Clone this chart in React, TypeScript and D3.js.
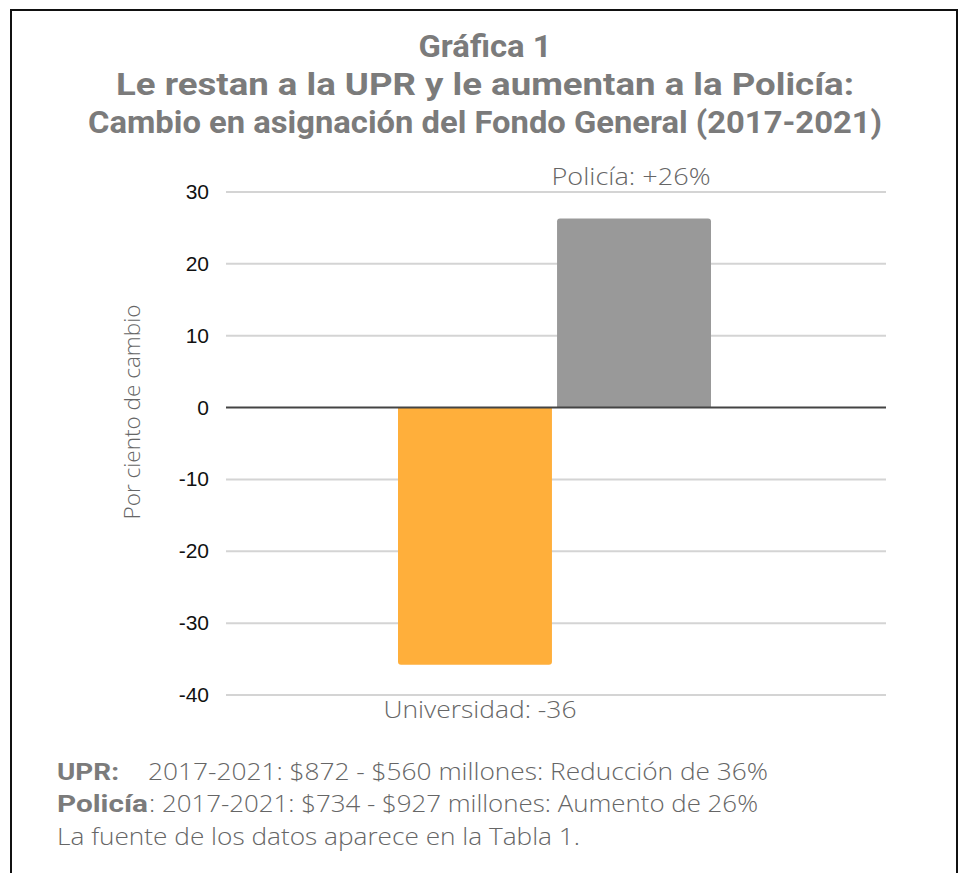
import React from "react";
import * as d3 from "d3";

const categories = ["Universidad", "Policía"];
const values = [-35.8, 26.3];
const barColors = ["#FFAF3B", "#999999"];
const barLabels = ["Universidad: -36", "Policía: +26%"];
const yTicks = [30, 20, 10, 0, -10, -20, -30, -40];
const titleLines = [
  "Gráfica 1",
  "Le restan a la UPR y le aumentan a la Policía:",
  "Cambio en asignación del Fondo General (2017-2021)",
];
const noteBold = ["UPR:", "Policía"];
const noteRest = [
  "2017-2021: $872 - $560 millones: Reducción de 36%",
  ":  2017-2021: $734 - $927 millones: Aumento de 26%",
];
const noteLast = "La fuente de los datos aparece en la Tabla 1.";
const yTitle = "Por ciento de cambio";

const W = 963;
const H = 873;

export default function App() {
  const y = d3.scaleLinear().domain([-40, 30]).range([695, 192]);
  const x = d3
    .scaleBand<string>()
    .domain(categories)
    .range([398, 711])
    .paddingInner(0.032)
    .paddingOuter(0);
  const gridX0 = 226;
  const gridX1 = 886;
  const r = 3;

  const barPath = (cat: string, v: number) => {
    const x0 = x(cat)!;
    const w = x.bandwidth();
    const y0 = y(0);
    const y1 = y(v);
    const s = v >= 0 ? 1 : -1;
    const p = d3.path();
    p.moveTo(x0, y0);
    p.lineTo(x0, y1 + s * r);
    p.quadraticCurveTo(x0, y1, x0 + r, y1);
    p.lineTo(x0 + w - r, y1);
    p.quadraticCurveTo(x0 + w, y1, x0 + w, y1 + s * r);
    p.lineTo(x0 + w, y0);
    p.closePath();
    return p.toString();
  };

  const titleFont = "Roboto, 'Noto Sans', sans-serif";
  const lightFont = "'Open Sans', Lato, sans-serif";
  const titleY = [57, 95, 133];
  const titleWidths = [133, 738, 794];

  return (
    <svg
      width={W}
      height={H}
      style={{ position: "absolute", left: 0, top: 0, background: "#fff" }}
    >
      <rect x={0} y={0} width={W} height={H} fill="#fff" />
      <rect
        x={11}
        y={10}
        width={946}
        height={900}
        fill="none"
        stroke="#111"
        strokeWidth={2}
      />

      {titleLines.map((t, i) => (
        <text
          key={i}
          x={485}
          y={titleY[i]}
          textAnchor="middle"
          fontFamily={titleFont}
          fontWeight={700}
          fontSize={32}
          fill="#7b7b7b"
          textLength={titleWidths[i]}
          lengthAdjust="spacingAndGlyphs"
        >
          {t}
        </text>
      ))}

      {yTicks.map((t) => (
        <g key={t}>
          {t !== 0 && (
            <line
              x1={gridX0}
              x2={gridX1}
              y1={y(t)}
              y2={y(t)}
              stroke="#d4d4d4"
              strokeWidth={2}
            />
          )}
          <text
            x={209}
            y={y(t) + 7}
            textAnchor="end"
            fontFamily="'Liberation Sans', Arial, sans-serif"
            fontSize={21}
            fill="#111"
          >
            {t}
          </text>
        </g>
      ))}

      {categories.map((c, i) => (
        <path key={c} d={barPath(c, values[i])} fill={barColors[i]} />
      ))}

      <line
        x1={gridX0}
        x2={gridX1}
        y1={y(0)}
        y2={y(0)}
        stroke="#444"
        strokeWidth={2}
      />

      <text
        x={631}
        y={185}
        textAnchor="middle"
        fontFamily={lightFont}
        fontWeight={300}
        fontSize={24}
        fill="#666"
        textLength={159}
        lengthAdjust="spacingAndGlyphs"
      >
        {barLabels[1]}
      </text>
      <text
        x={480}
        y={718}
        textAnchor="middle"
        fontFamily={lightFont}
        fontWeight={300}
        fontSize={24}
        fill="#666"
        textLength={193}
        lengthAdjust="spacingAndGlyphs"
      >
        {barLabels[0]}
      </text>

      <text
        transform={`translate(140, ${412}) rotate(-90)`}
        textAnchor="middle"
        fontFamily={lightFont}
        fontWeight={300}
        fontSize={22}
        fill="#666"
        textLength={215}
        lengthAdjust="spacingAndGlyphs"
      >
        {yTitle}
      </text>

      <text
        x={57}
        y={780}
        fontFamily={titleFont}
        fontWeight={700}
        fontSize={23}
        fill="#7b7b7b"
        textLength={62}
        lengthAdjust="spacingAndGlyphs"
      >
        {noteBold[0]}
      </text>
      <text
        x={148}
        y={780}
        fontFamily={lightFont}
        fontWeight={300}
        fontSize={24}
        fill="#666"
        textLength={620}
        lengthAdjust="spacingAndGlyphs"
      >
        {noteRest[0]}
      </text>
      <text
        x={57}
        y={812}
        fontFamily={titleFont}
        fontWeight={700}
        fontSize={23}
        fill="#7b7b7b"
        textLength={91}
        lengthAdjust="spacingAndGlyphs"
      >
        {noteBold[1]}
      </text>
      <text
        x={149}
        y={812}
        fontFamily={lightFont}
        fontWeight={300}
        fontSize={24}
        fill="#666"
        textLength={609}
        lengthAdjust="spacingAndGlyphs"
      >
        {noteRest[1]}
      </text>
      <text
        x={57}
        y={845}
        fontFamily={lightFont}
        fontWeight={300}
        fontSize={24}
        fill="#666"
        textLength={523}
        lengthAdjust="spacingAndGlyphs"
      >
        {noteLast}
      </text>
    </svg>
  );
}
